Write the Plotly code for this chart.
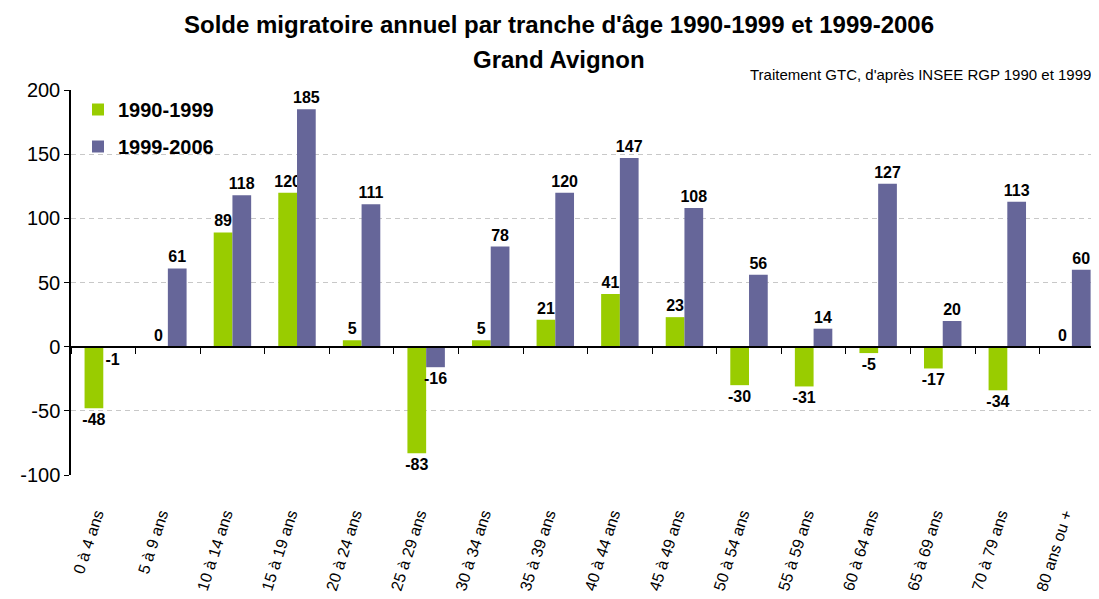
import plotly.graph_objects as go

categories = ["0 à 4 ans", "5 à 9 ans", "10 à 14 ans", "15 à 19 ans", "20 à 24 ans",
              "25 à 29 ans", "30 à 34 ans", "35 à 39 ans", "40 à 44 ans", "45 à 49 ans",
              "50 à 54 ans", "55 à 59 ans", "60 à 64 ans", "65 à 69 ans", "70 à 79 ans",
              "80 ans ou +"]
values_1990_1999 = [-48, 0, 89, 120, 5, -83, 5, 21, 41, 23, -30, -31, -5, -17, -34, 0]
values_1999_2006 = [-1, 61, 118, 185, 111, -16, 78, 120, 147, 108, 56, 14, 127, 20, 113, 60]
series_names = ["1990-1999", "1999-2006"]
series_colors = ["#99CC00", "#666699"]
y_ticks = [-100, -50, 0, 50, 100, 150, 200]

FONT = "Liberation Sans"
OFF = 8  # page body margin
W, H = 1099 - OFF, 599 - OFF
L, R, T, B = 71 - OFF, 0, 90 - OFF, 124
x_range = [-0.5, 15.42]
y_range = [-100, 200]
PW, PH = W - L - R, H - T - B


def px_x(sx):
    return (sx - OFF - L) / PW


def px_y(sy):
    return (H - B - (sy - OFF)) / PH


fig = go.Figure()
for name, vals, col in zip(series_names, [values_1990_1999, values_1999_2006], series_colors):
    fig.add_trace(go.Bar(
        x=categories, y=vals, name=name, legendgroup=name,
        marker=dict(color=col, line=dict(width=0)),
        text=[str(v) for v in vals], textposition="outside",
        constraintext="none", cliponaxis=False,
        textfont=dict(family=FONT, size=16, color="black", weight="bold"),
        xaxis="x", yaxis="y",
    ))

# invisible carrier trace for the bottom category labels
fig.add_trace(go.Scatter(x=categories, y=[0] * len(categories), xaxis="x2", yaxis="y",
                         mode="markers", marker=dict(opacity=0), hoverinfo="skip",
                         showlegend=False))

zero_pos = (0 - y_range[0]) / (y_range[1] - y_range[0])

fig.update_layout(
    width=W, height=H,
    margin=dict(l=L, r=R, t=T, b=B, autoexpand=False),
    paper_bgcolor="white", plot_bgcolor="white",
    barmode="group", bargap=0.42, bargroupgap=0,
    font=dict(family=FONT, color="black"),
    title=dict(text="<b>Solde migratoire annuel par tranche d'âge 1990-1999 et 1999-2006</b>",
               x=(559 - OFF) / W, xanchor="center", y=1 - (25 - OFF) / H, yanchor="middle",
               font=dict(family=FONT, size=24, color="black")),
    xaxis=dict(type="category", range=x_range, anchor="free", position=zero_pos,
               showline=True, linecolor="black", linewidth=2,
               ticks="outside", tickson="boundaries", ticklen=6, tickcolor="black", tickwidth=1,
               showticklabels=False, showgrid=False, zeroline=False, fixedrange=True),
    xaxis2=dict(type="category", range=x_range, overlaying="x", anchor="y", side="bottom",
                showline=False, showgrid=False, zeroline=False,
                ticks="", ticklabelstandoff=26, ticklabelshift=-7,
                tickangle=-72, tickfont=dict(family=FONT, size=16, color="black")),
    yaxis=dict(range=y_range, tickvals=y_ticks, ticktext=[str(v) for v in y_ticks],
               showline=True, linecolor="black", linewidth=1.5,
               ticks="outside", ticklen=5, tickcolor="black",
               tickfont=dict(family=FONT, size=20, color="black"),
               showgrid=True, gridcolor="#C8C8C8", griddash="5px,4px", gridwidth=1,
               zeroline=False),
    legend=dict(x=px_x(78), y=px_y(90), xanchor="left", yanchor="top",
                bgcolor="rgba(0,0,0,0)", traceorder="grouped", tracegroupgap=8,
                font=dict(family=FONT, size=20, color="black", weight="bold")),
    showlegend=True,
    annotations=[
        dict(text="<b>Grand Avignon</b>", xref="paper", yref="paper",
             x=px_x(559), y=px_y(60),
             xanchor="center", yanchor="middle", showarrow=False,
             font=dict(family=FONT, size=24, color="black")),
        dict(text="Traitement GTC, d'après INSEE RGP 1990 et 1999", xref="paper", yref="paper",
             x=px_x(1093), y=px_y(74),
             xanchor="right", yanchor="middle", showarrow=False,
             font=dict(family=FONT, size=15, color="black")),
    ],
)

fig.write_html("out.html")
